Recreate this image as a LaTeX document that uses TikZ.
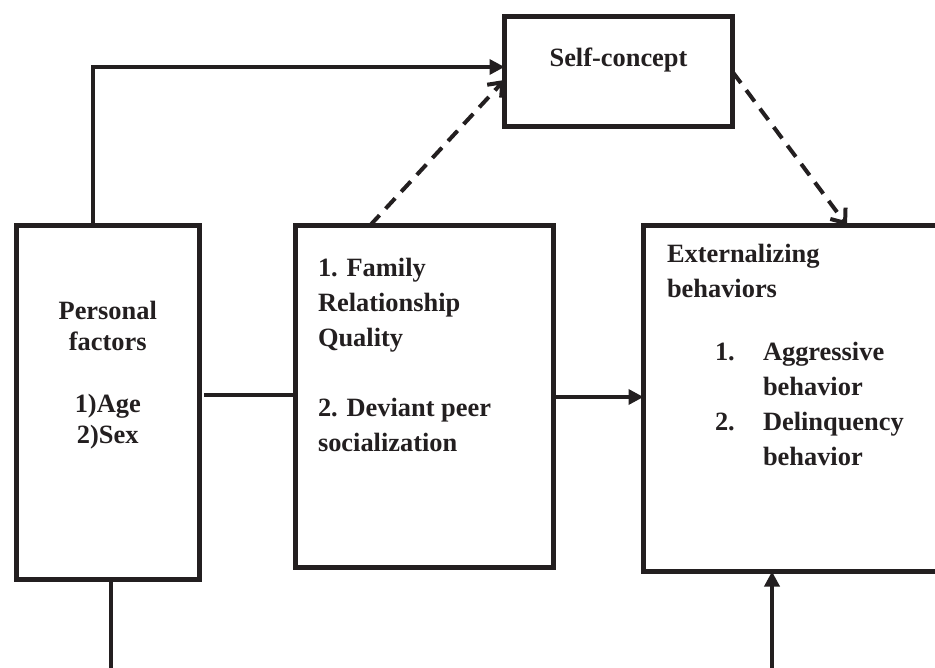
\documentclass[tikz,border=0pt]{standalone}
\usepackage{fontspec}
\setmainfont{Liberation Serif}
\usetikzlibrary{arrows.meta}
\definecolor{ink}{HTML}{231F20}
\begin{document}
\begin{tikzpicture}[x=1pt,y=-1pt,
  box/.style={draw=ink, line width=5pt, rectangle, inner sep=0pt, outer sep=0pt, anchor=north west},
  lbl/.style={text=ink, font=\fontsize{26.4}{35}\selectfont\bfseries, inner sep=0pt, outer sep=0pt, align=left},
  conn/.style={draw=ink, line width=3.5pt},
  arr/.style={conn, -{Triangle[length=15pt,width=15pt]}},
  darr/.style={conn, line width=4pt, dash pattern=on 14pt off 9pt, -{Straight Barb[length=12pt,width=19pt]}}]
\clip (0,0) rectangle (935,668);
\fill[white] (0,0) rectangle (935,668);
% boxes
\node[box, minimum width=183.5pt, minimum height=354pt] (b1) at (16,225.5) {};
\node[box, minimum width=258pt, minimum height=342pt] (b2) at (295.5,225.5) {};
\node[box, minimum width=228pt, minimum height=109.5pt] (b3) at (504.5,17) {};
\node[box, minimum width=320pt, minimum height=346pt] (b4) at (643.5,225.5) {};
% texts (base anchor = baseline of the last line)
\node[lbl, align=center, font=\fontsize{26.4}{31}\selectfont\bfseries, anchor=base] (t1) at (107.75,443) {Personal\\factors\\[31pt]1)Age\\2)Sex};
\node[lbl, anchor=base west] (t2) at (318,451) {1. Family\\Relationship\\Quality\\[35pt]2. Deviant peer\\socialization};
\node[lbl, anchor=base] (t3) at (618.5,67) {Self-concept};
\node[lbl, anchor=base west] (t4) at (667,298) {Externalizing\\behaviors};
\node[lbl, anchor=base west] (t5) at (715,465) {\makebox[48pt][l]{1.}Aggressive\\\hspace*{48pt}behavior\\\makebox[48pt][l]{2.}Delinquency\\\hspace*{48pt}behavior};
% free ends
\coordinate (pbot) at (111,680);
\coordinate (ebot) at (772,680);
% connectors
\draw[arr] (b1.north -| 93,0) |- (b3.west |- 0,67);
\draw[darr] (b2.north -| 370,0) -- (b3.west |- 0,80);
\draw[darr] (b3.east) -- (b4.north -| 847,0);
\draw[conn, shorten <=4.5pt] (b1.east |- 0,395) -- (b2.west |- 0,395);
\draw[arr] (b2.east |- 0,397) -- (b4.west |- 0,397);
\draw[conn] (b1.south -| 111,0) -- (pbot);
\draw[arr] (ebot) -- (b4.south -| 772,0);
\end{tikzpicture}
\end{document}
